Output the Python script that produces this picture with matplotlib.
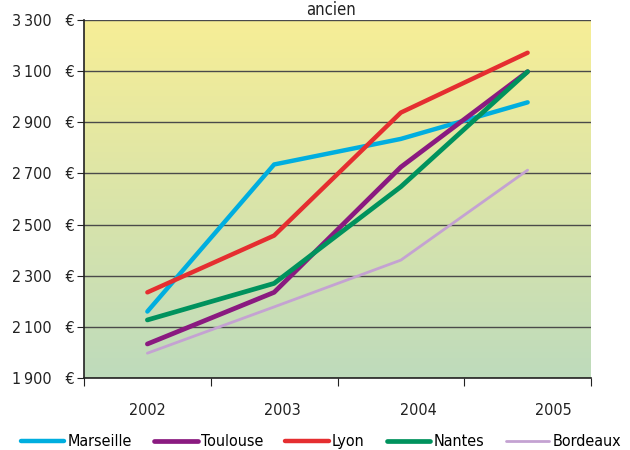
import matplotlib.pyplot as plt
import numpy as np
from matplotlib.colors import LinearSegmentedColormap

# données
annees = ['2002', '2003', '2004', '2005']
villes = ['Marseille', 'Toulouse', 'Lyon', 'Nantes', 'Bordeaux']
marseille = [2160, 2735, 2835, 2978]
toulouse = [2033, 2235, 2725, 3098]
lyon = [2235, 2457, 2938, 3172]
nantes = [2127, 2270, 2648, 3098]
bordeaux = [1997, 2178, 2361, 2713]
series = [marseille, toulouse, lyon, nantes, bordeaux]
couleurs = ['#00AEDF', '#8A1A80', '#E52E30', '#00925D', '#C4A2D2']
epaisseurs = [3.2, 3.4, 3.2, 3.4, 2.0]
yticks = [1900, 2100, 2300, 2500, 2700, 2900, 3100, 3300]

plt.rcParams['font.family'] = ['DejaVu Sans']
plt.rcParams['font.stretch'] = 'condensed'

fig = plt.figure(figsize=(6.3, 4.5), dpi=100)
ax = fig.add_axes([84 / 630, 1 - 378 / 450, 507 / 630, 358 / 450])

# fond dégradé jaune -> vert
cmap = LinearSegmentedColormap.from_list('fond', ['#BEDBBC', '#F7EE96'])
grad = np.linspace(0, 1, 256).reshape(-1, 1)
ax.imshow(grad, cmap=cmap, aspect='auto', origin='lower',
          extent=[0, 1, 0, 1], transform=ax.transAxes, zorder=0)

x = np.arange(len(annees))
for s, c, lw, nom in zip(series, couleurs, epaisseurs, villes):
    ax.plot(x, s, color=c, lw=lw, label=nom, solid_capstyle='round',
            solid_joinstyle='round', zorder=3)

ax.set_xlim(-0.5, 3.5)
ax.set_ylim(1900, 3300)
ax.set_yticks(yticks)
ax.set_yticklabels([f'{v // 1000}\u2009{v % 1000:03d}   €' for v in yticks],
                   fontsize=11.5, color='#222222')
ax.yaxis.grid(True, color='#4a4a4a', lw=1.0, zorder=1)

ax.set_xticks([-0.5, 0.5, 1.5, 2.5, 3.5])
ax.set_xticklabels([])
ax.set_xticks([0, 1.065, 2.14, 3.2], minor=True)
ax.set_xticklabels(annees, minor=True, fontsize=11.5, color='#222222')
ax.tick_params(axis='x', which='major', length=6, color='#222222')
ax.tick_params(axis='x', which='minor', length=0, pad=18)
ax.tick_params(axis='y', length=5, color='#222222', pad=2)

for sp in ['top', 'right']:
    ax.spines[sp].set_visible(False)
for sp in ['left', 'bottom']:
    ax.spines[sp].set_color('#222222')
    ax.spines[sp].set_linewidth(1.2)

fig.text(0.525, 1 - 1 / 450, 'ancien', ha='center', va='top',
         fontsize=12, color='#222222')

fig.legend(loc='lower center', bbox_to_anchor=(0.51, -0.03), ncol=5,
           frameon=False, fontsize=11.5, handlelength=2.7,
           handletextpad=0.2, columnspacing=1.4)

fig.savefig('out.png', dpi=100)
